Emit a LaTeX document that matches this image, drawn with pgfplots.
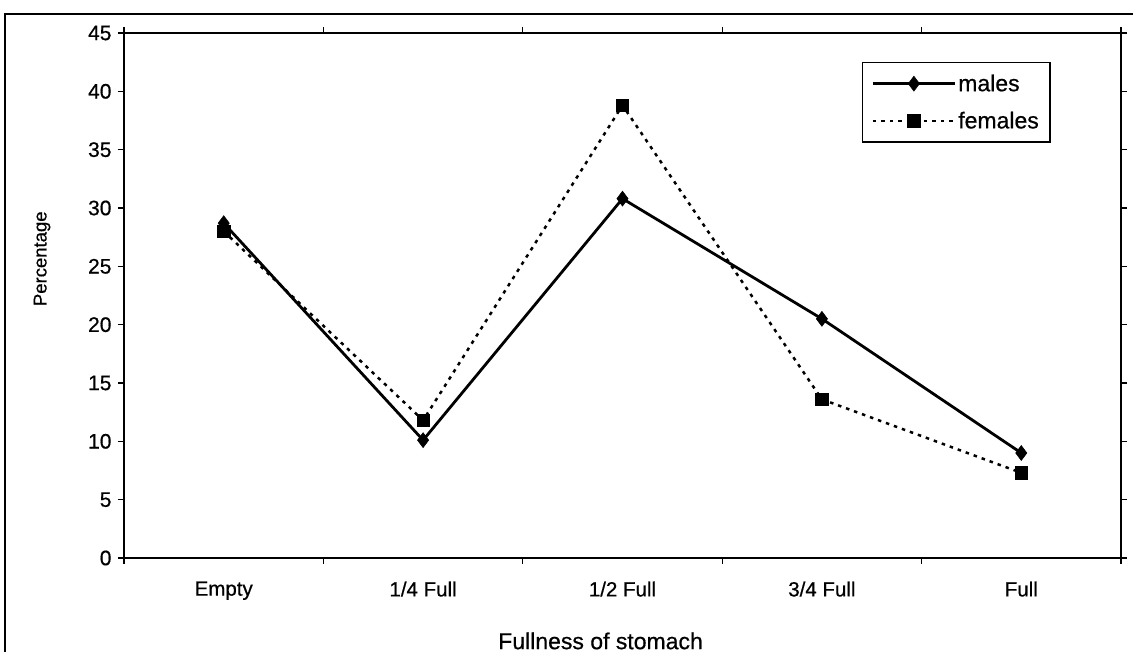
\documentclass[border=0pt]{standalone}
\usepackage{fontspec}
\setmainfont[FakeBold=0.6]{Liberation Sans}
\usepackage{pgfplots}
\pgfplotsset{compat=1.18}

\begin{document}
\begin{tikzpicture}[x=1pt,y=1pt]
\useasboundingbox (0,0) rectangle (1133,652);
% outer frame (right and bottom edges are cut off in the scan)
\draw[line width=2.4pt] (5,-5) -- (5,638) -- (1140,638);
\begin{axis}[
    at={(124pt,94pt)}, anchor=south west,
    scale only axis,
    width=997pt, height=525pt,
    xmin=-0.5, xmax=4.5,
    ymin=0, ymax=45,
    ytick={0,5,...,45},
    xtick={-0.5,0.5,...,4.5},
    x tick label as interval,
    xticklabels={Empty,1/4 Full,1/2 Full,3/4 Full,Full},
    tick align=outside,
    major tick length=6pt,
    tick style={black, line width=1.2pt},
    axis line style={line width=1.4pt},
    /pgf/number format/assume math mode=true,
    ticklabel style={font=\fontsize{21}{23}\selectfont},
    xticklabel style={font=\fontsize{20.5}{22}\selectfont, yshift=-14pt},
    yticklabel style={xshift=-3pt},
    every axis y label/.style={at={(axis description cs:-0.0822,0.570)}, rotate=90, anchor=center},
    every axis x label/.style={at={(axis description cs:0.478,-0.158)}, anchor=center},
    ylabel={\fontsize{18.5}{20}\selectfont Percentage},
    xlabel={\fontsize{23}{25}\selectfont Fullness of stomach},
    legend style={at={(0.740,0.945)}, anchor=north west, draw=black, line width=1.4pt,
        font=\fontsize{23}{25}\selectfont, row sep=15pt, inner xsep=9pt, inner ysep=10pt},
    legend cell align=left,
    legend image code/.code={\draw[mark repeat=2, mark phase=2, #1] plot coordinates {(0pt,0pt) (41pt,0pt) (82pt,0pt)};},
]
\addplot[black, line width=2.8pt, mark=diamond*, mark size=7.5pt, mark options={solid, line width=0.5pt}]
  coordinates {(0,28.7) (1,10.1) (2,30.8) (3,20.5) (4,9.0)};
\addlegendentry{males}
\addplot[black, line width=2.5pt, dash pattern=on 3.5pt off 5pt, mark=square*, mark size=6.2pt, mark options={solid, line width=0.5pt}]
  coordinates {(0,28.0) (1,11.8) (2,38.8) (3,13.6) (4,7.3)};
\addlegendentry{females}
\end{axis}
\end{tikzpicture}
\end{document}
